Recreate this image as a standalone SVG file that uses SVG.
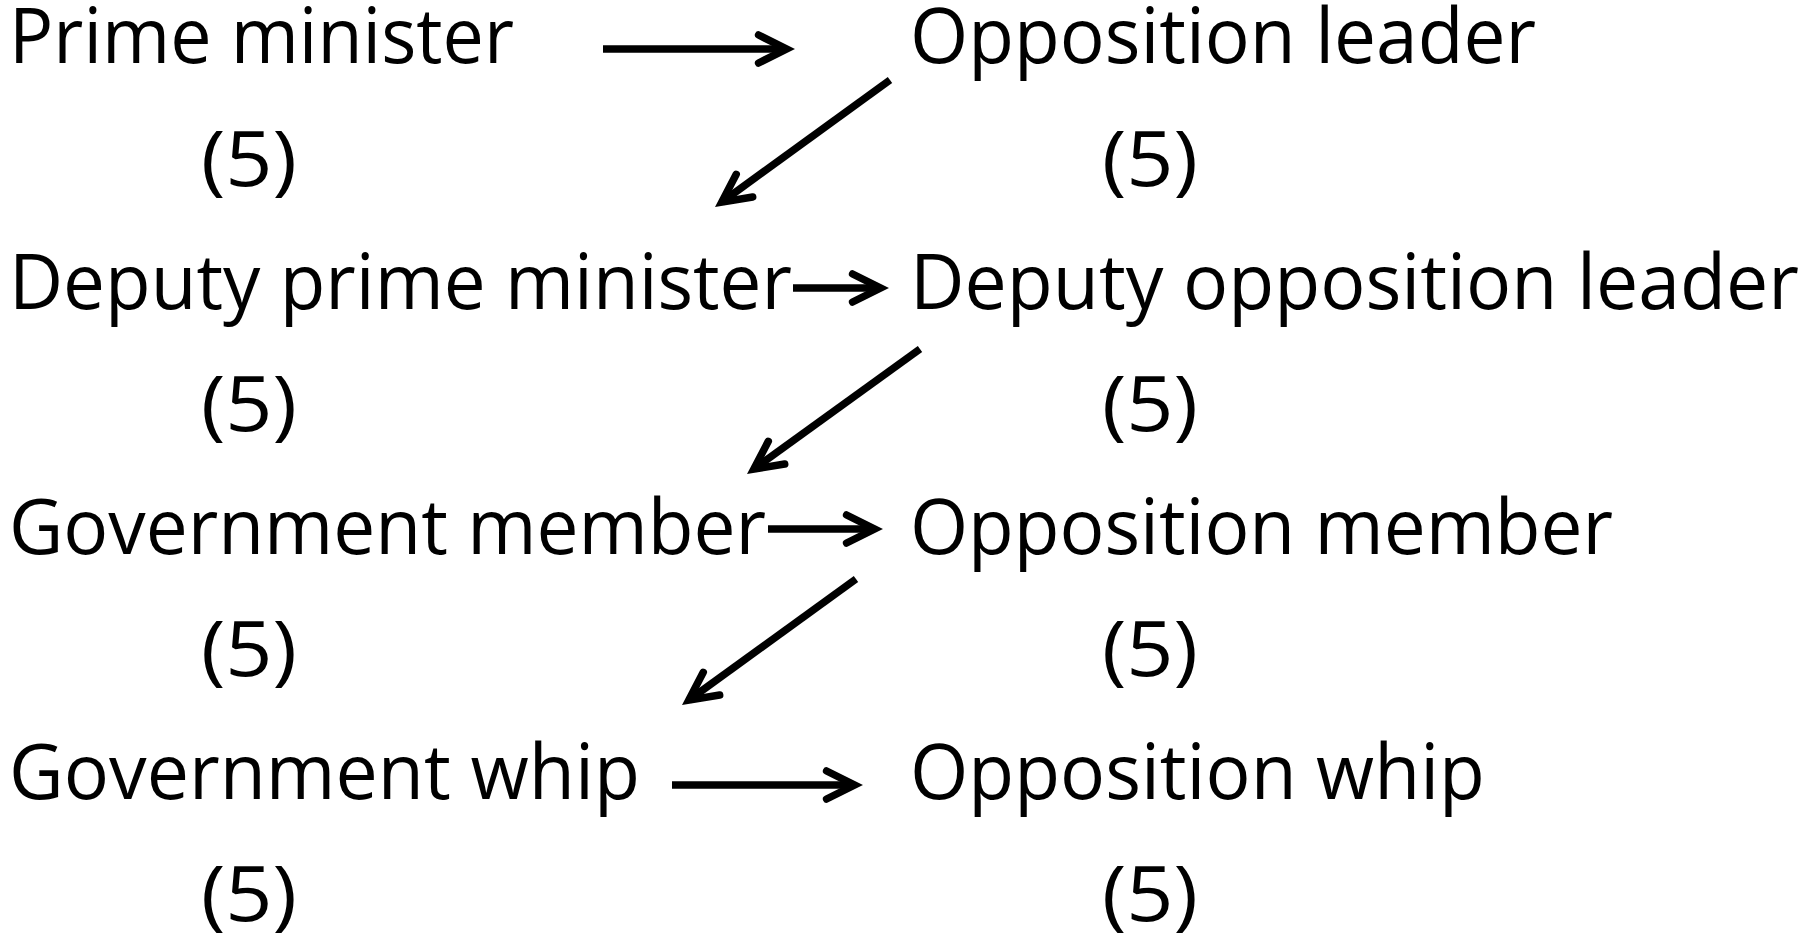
<svg xmlns="http://www.w3.org/2000/svg" width="1816" height="941" viewBox="0 0 1816 941">
<style>
.t{font-family:"Open Sans","Lato","Liberation Sans",sans-serif;font-size:76px;fill:#000}
.c{stroke:#000;stroke-width:7.5;fill:none;marker-end:url(#ah)}
</style>
<defs>
<marker id="ah" markerUnits="userSpaceOnUse" orient="auto" refX="0" refY="0" markerWidth="60" markerHeight="60" viewBox="-40 -30 60 60" overflow="visible">
<path d="M-28,-14 L0,0 L-28,14" fill="none" stroke="#000" stroke-width="7.5" stroke-linecap="round" stroke-linejoin="miter" stroke-miterlimit="10"/>
</marker>
</defs>
<rect width="1816" height="941" fill="#fff"/>
<g id="pm"><text class="t" x="9" y="63" textLength="505" lengthAdjust="spacingAndGlyphs">Prime minister</text><text class="t" x="201" y="186" textLength="96" lengthAdjust="spacingAndGlyphs">(5)</text></g>
<g id="ol"><text class="t" x="910" y="63" textLength="626" lengthAdjust="spacingAndGlyphs">Opposition leader</text><text class="t" x="1102" y="186" textLength="96" lengthAdjust="spacingAndGlyphs">(5)</text></g>
<g id="dpm"><text class="t" x="9" y="309" textLength="783" lengthAdjust="spacingAndGlyphs">Deputy prime minister</text><text class="t" x="201" y="431" textLength="96" lengthAdjust="spacingAndGlyphs">(5)</text></g>
<g id="dol"><text class="t" x="910" y="309" textLength="889" lengthAdjust="spacingAndGlyphs">Deputy opposition leader</text><text class="t" x="1102" y="431" textLength="96" lengthAdjust="spacingAndGlyphs">(5)</text></g>
<g id="gm"><text class="t" x="9" y="554" textLength="757" lengthAdjust="spacingAndGlyphs">Government member</text><text class="t" x="201" y="676" textLength="96" lengthAdjust="spacingAndGlyphs">(5)</text></g>
<g id="om"><text class="t" x="910" y="554" textLength="703" lengthAdjust="spacingAndGlyphs">Opposition member</text><text class="t" x="1102" y="676" textLength="96" lengthAdjust="spacingAndGlyphs">(5)</text></g>
<g id="gw"><text class="t" x="9" y="799" textLength="631" lengthAdjust="spacingAndGlyphs">Government whip</text><text class="t" x="201" y="921" textLength="96" lengthAdjust="spacingAndGlyphs">(5)</text></g>
<g id="ow"><text class="t" x="910" y="799" textLength="575" lengthAdjust="spacingAndGlyphs">Opposition whip</text><text class="t" x="1102" y="921" textLength="96" lengthAdjust="spacingAndGlyphs">(5)</text></g>
<g id="connectors">
<line class="c" x1="603" y1="49" x2="786.6" y2="49"/>
<line class="c" x1="890" y1="80" x2="721.8" y2="202.1"/>
<line class="c" x1="793" y1="288" x2="880.6" y2="288"/>
<line class="c" x1="920" y1="349" x2="753.8" y2="469.1"/>
<line class="c" x1="768" y1="529" x2="874.6" y2="529"/>
<line class="c" x1="856" y1="579" x2="688.8" y2="700.1"/>
<line class="c" x1="672" y1="785" x2="854.6" y2="785"/>
</g>
</svg>
